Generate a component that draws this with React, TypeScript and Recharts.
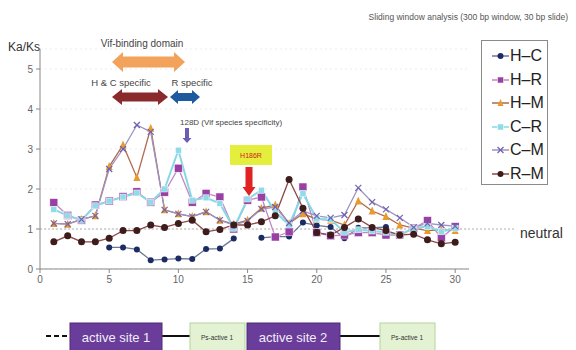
import * as React from 'react';
import {LineChart, Line, XAxis, YAxis, ReferenceLine, CartesianGrid} from 'recharts';

// sliding window index (300 bp window, 30 bp slide)
const windows = [1, 2, 3, 4, 5, 6, 7, 8, 9, 10, 11, 12, 13, 14, 15, 16, 17, 18, 19, 20, 21, 22, 23, 24, 25, 26, 27, 28, 29, 30];

// Ka/Ks values
const hc = [null, null, null, null, 0.54, 0.54, 0.49, 0.22, 0.24, 0.26, 0.25, 0.5, 0.51, 0.76, null, 0.78, 0.81, 0.81, 1.16, 1.09, 1.05, 0.77, 1.03, 1.03, 1.05, null, null, null, null, null];
const hr = [1.66, 1.34, 1.22, 1.6, 1.7, 1.81, 1.93, 1.67, 1.92, 2.52, 1.67, 1.89, 1.8, 1.0, 1.72, 1.8, 0.8, 0.93, 2.05, 0.91, 0.83, 0.85, 0.91, 0.91, 0.85, 0.85, 1.02, 1.21, 0.78, 1.06];
const hm = [1.14, 1.12, 1.24, 1.33, 2.56, 3.1, 2.29, 3.52, 1.48, 1.38, 1.31, 1.43, 1.22, 1.12, 1.22, 1.52, 1.6, 1.14, 1.38, 1.25, 1.22, 1.1, 1.7, 1.45, 1.31, 1.1, 1.02, 0.96, 0.98, 0.96];
const cr = [1.49, 1.33, 1.22, 1.58, 1.7, 1.8, 1.9, 1.67, 2.0, 2.97, 1.72, 1.78, 1.64, 1.02, 1.75, 1.97, 1.43, 1.1, 1.89, 1.25, 1.24, 0.92, 0.98, 0.95, 0.92, 0.85, 1.02, 1.06, 0.93, 1.02];
const cm = [1.14, 1.12, 1.24, 1.33, 2.5, 3.0, 3.6, 3.43, 1.48, 1.38, 1.31, 1.43, 1.22, 1.1, 1.2, 1.5, 1.55, 1.15, 1.45, 1.33, 1.28, 1.35, 2.03, 1.67, 1.49, 1.28, 1.04, 1.14, 1.1, 1.07];
const rm = [0.68, 0.83, 0.68, 0.68, 0.77, 0.96, 0.96, 1.1, 1.04, 1.14, 1.22, 0.93, 0.99, 1.1, 1.1, 1.18, 1.33, 2.24, 1.52, 0.91, 0.85, 1.04, 1.25, 1.04, 0.96, 0.85, 0.87, 0.73, 0.63, 0.67];

const xTicks = [0, 5, 10, 15, 20, 25, 30];
const yTicks = [0, 1, 2, 3, 4, 5];

const series = [
    {key: 'hc', name: 'H\u2013C', values: hc, line: '#6a7898', fill: '#1d2b63', shape: 'circle', size: 3},
    {key: 'hr', name: 'H\u2013R', values: hr, line: '#c486c4', fill: '#9a3fa4', shape: 'square', size: 4},
    {key: 'hm', name: 'H\u2013M', values: hm, line: '#b06a4e', fill: '#e89a2a', shape: 'triangle', size: 3.5},
    {key: 'cr', name: 'C\u2013R', values: cr, line: '#86d8e6', fill: '#8fdbe8', shape: 'square', size: 3},
    {key: 'cm', name: 'C\u2013M', values: cm, line: '#9c92c4', fill: '#6e62b0', shape: 'cross', size: 3},
    {key: 'rm', name: 'R\u2013M', values: rm, line: '#8c4848', fill: '#3e1c1c', shape: 'circle', size: 3.5},
];

const data = windows.map((w, i) => {
    const row: any = {w};
    series.forEach(s => { row[s.key] = s.values[i]; });
    return row;
});

const Marker = ({shape, fill, cx, cy, size}: any) => {
    if (shape === 'square') {
        return <rect x={cx - size} y={cy - size} width={size * 2} height={size * 2} fill={fill} stroke="#fff" strokeWidth={0.5}/>;
    }
    if (shape === 'triangle') {
        return <polygon points={`${cx},${cy - size - 1} ${cx - size},${cy + size} ${cx + size},${cy + size}`} fill={fill}/>;
    }
    if (shape === 'cross') {
        return <g stroke={fill} strokeWidth={1.2}>
            <line x1={cx - size} y1={cy - size} x2={cx + size} y2={cy + size}/>
            <line x1={cx - size} y1={cy + size} x2={cx + size} y2={cy - size}/>
        </g>;
    }
    return <circle cx={cx} cy={cy} r={size} fill={fill}/>;
}

const makeDot = (s: any) => (props: any) => {
    const {cx, cy, index, payload} = props;
    if (cx == null || cy == null || payload == null || payload[s.key] == null) {
        return <g key={s.key + index}/>;
    }
    return <g key={s.key + index}><Marker shape={s.shape} fill={s.fill} cx={cx} cy={cy} size={s.size}/></g>;
}

const doubleArrow = (x1: number, x2: number, cy: number, shaft: number, head: number, hw: number) => {
    const pts = [
        [x1, cy], [x1 + hw, cy - head / 2], [x1 + hw, cy - shaft / 2], [x2 - hw, cy - shaft / 2],
        [x2 - hw, cy - head / 2], [x2, cy], [x2 - hw, cy + head / 2], [x2 - hw, cy + shaft / 2],
        [x1 + hw, cy + shaft / 2], [x1 + hw, cy + head / 2],
    ];
    return pts.map(p => p.join(',')).join(' ');
}

const downArrow = (cx: number, y1: number, y2: number, shaft: number, head: number, hl: number) => {
    const pts = [
        [cx - shaft / 2, y1], [cx + shaft / 2, y1], [cx + shaft / 2, y2 - hl], [cx + head / 2, y2 - hl],
        [cx, y2], [cx - head / 2, y2 - hl], [cx - shaft / 2, y2 - hl],
    ];
    return pts.map(p => p.join(',')).join(' ');
}

const Annotations = () => (
    <svg width={576} height={350} style={{position: 'absolute', left: 0, top: 0, pointerEvents: 'none'}}>
        <text x={568} y={20} textAnchor="end" fontSize={8.5} fill="#555">Sliding window analysis (300 bp window, 30 bp slide)</text>
        <text x={8} y={51} fontSize={12} fill="#333">Ka/Ks</text>

        <text x={142} y={47} textAnchor="middle" fontSize={10} fill="#444">Vif-binding  domain</text>
        <polygon points={doubleArrow(112, 185, 62, 11, 20, 11)} fill="#f2a25a"/>
        <text x={121} y={86} textAnchor="middle" fontSize={9.5} fill="#444">H &amp; C specific</text>
        <polygon points={doubleArrow(112, 168, 97, 9, 16, 10)} fill="#8a2a2c"/>
        <text x={192} y={86} textAnchor="middle" fontSize={9.5} fill="#444">R specific</text>
        <polygon points={doubleArrow(170, 200, 97, 8, 14, 8)} fill="#1d5a9e"/>

        <text x={180} y={125} fontSize={8} fill="#444">128D (Vif species specificity)</text>
        <polygon points={downArrow(187, 128, 143, 4, 9, 5)} fill="#6c5cb4"/>

        <rect x={230} y={145} width={42} height={20} fill="#e4ee3c"/>
        <text x={251} y={158} textAnchor="middle" fontSize={7} fill="#d02020">H186R</text>
        <polygon points={downArrow(249, 167, 196, 7, 13, 9)} fill="#e02222"/>

        <text x={520} y={238} fontSize={14} fill="#333">neutral</text>

        <line x1={46} y1={336} x2={70} y2={336} stroke="#111" strokeWidth={2} strokeDasharray="5 3"/>
        <line x1={162} y1={336} x2={190} y2={336} stroke="#111" strokeWidth={2}/>
        <line x1={340} y1={336} x2={380} y2={336} stroke="#111" strokeWidth={2}/>
        <rect x={70} y={323} width={92} height={30} fill="#6a3d9a" stroke="#4e2a78"/>
        <text x={116} y={342} textAnchor="middle" fontSize={13} fill="#f2ecf8">active site 1</text>
        <rect x={190} y={323} width={55} height={30} fill="#e2f2d2" stroke="#b4d4a0"/>
        <text x={217} y={340} textAnchor="middle" fontSize={6.5} fill="#333">Ps-active 1</text>
        <rect x={247} y={323} width={93} height={30} fill="#6a3d9a" stroke="#4e2a78"/>
        <text x={293} y={342} textAnchor="middle" fontSize={13} fill="#f2ecf8">active site 2</text>
        <rect x={380} y={323} width={55} height={30} fill="#e2f2d2" stroke="#b4d4a0"/>
        <text x={407} y={340} textAnchor="middle" fontSize={6.5} fill="#333">Ps-active 1</text>
    </svg>
);

const LegendBox = () => (
    <div style={{position: 'absolute', left: 481, top: 40, width: 65, height: 143, border: '1px solid #8a8a8a', background: '#fff'}}>
        {series.map((s, i) => (
            <div key={s.key} style={{position: 'absolute', left: 10, top: 4 + i * 23.6, height: 22, display: 'flex', alignItems: 'center'}}>
                <svg width={17} height={12}>
                    <line x1={0} y1={6} x2={17} y2={6} stroke={s.line} strokeWidth={1.5}/>
                    <Marker shape={s.shape} fill={s.fill} cx={8.5} cy={6} size={Math.min(s.size, 3)}/>
                </svg>
                <span style={{fontSize: 16, color: '#222', marginLeft: 1}}>{s.name}</span>
            </div>
        ))}
    </div>
);

export default function App() {
    return (
        <div style={{position: 'relative', width: 576, height: 350, fontFamily: '"Liberation Sans", Arial, sans-serif', background: '#fff', overflow: 'hidden'}}>
            <style>{'body{margin:0}'}</style>
            <LineChart width={576} height={350} data={data} margin={{top: 49, right: 107, bottom: 51, left: 10}}>
                <CartesianGrid vertical={false} stroke="#ececec" strokeDasharray="2 3"/>
                <XAxis dataKey="w" type="number" domain={[0, 31]} ticks={xTicks} height={30}
                       tick={{fontSize: 10, fill: '#666'}} tickSize={4} tickMargin={3}
                       axisLine={{stroke: '#888'}} tickLine={{stroke: '#888'}}/>
                <YAxis type="number" domain={[0, 5.5]} ticks={yTicks} width={30}
                       tick={{fontSize: 10, fill: '#666'}} tickSize={4} tickMargin={3}
                       axisLine={{stroke: '#888'}} tickLine={{stroke: '#888'}}/>
                <ReferenceLine segment={[{x: 0, y: 1}, {x: 34.3, y: 1}]} ifOverflow="visible"
                               stroke="#b0b0b0" strokeDasharray="2 2"/>
                {series.map(s => (
                    <Line key={s.key} dataKey={s.key} name={s.name} stroke={s.line}
                          strokeWidth={s.key === 'cr' ? 2 : 1.3} dot={makeDot(s)}
                          activeDot={false} isAnimationActive={false}/>
                ))}
            </LineChart>
            <Annotations/>
            <LegendBox/>
        </div>
    );
}
